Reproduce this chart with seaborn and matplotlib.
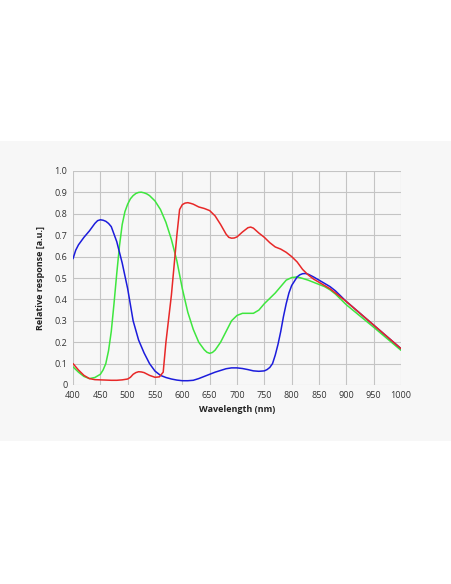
import numpy as np
import pandas as pd
import seaborn as sns
import matplotlib.pyplot as plt
from matplotlib.patches import Rectangle

# spectral response curves
blue_nm = [400, 405, 410, 420, 430, 440, 445, 450, 455, 460, 465, 470, 480, 490, 500, 510,
           520, 530, 540, 550, 560, 570, 580, 590, 600, 610, 620, 630, 640, 650, 660, 670,
           680, 690, 700, 710, 720, 730, 740, 750, 755, 760, 765, 770, 775, 780, 785, 790,
           795, 800, 810, 815, 820, 825, 830, 840, 850, 860, 870, 880, 890, 900, 950, 1000]
blue_val = [0.59, 0.63, 0.655, 0.69, 0.72, 0.755, 0.768, 0.772, 0.77, 0.765, 0.755, 0.74,
            0.67, 0.57, 0.45, 0.30, 0.21, 0.15, 0.10, 0.065, 0.045, 0.035, 0.028, 0.023,
            0.02, 0.02, 0.022, 0.03, 0.04, 0.05, 0.06, 0.068, 0.076, 0.08, 0.08, 0.077,
            0.072, 0.066, 0.064, 0.066, 0.072, 0.082, 0.10, 0.14, 0.19, 0.25, 0.32, 0.38,
            0.43, 0.465, 0.505, 0.515, 0.52, 0.521, 0.518, 0.505, 0.49, 0.475, 0.46, 0.44,
            0.415, 0.39, 0.28, 0.17]

green_nm = [400, 410, 420, 430, 440, 450, 455, 460, 465, 470, 475, 480, 485, 490, 495, 500,
            505, 510, 515, 520, 525, 530, 535, 540, 550, 560, 570, 580, 590, 600, 610, 620,
            630, 640, 645, 650, 655, 660, 670, 680, 690, 700, 710, 720, 730, 740, 750, 760,
            770, 780, 790, 800, 810, 820, 830, 840, 850, 860, 870, 880, 890, 900, 950, 1000]
green_val = [0.085, 0.06, 0.04, 0.03, 0.035, 0.05, 0.07, 0.10, 0.16, 0.25, 0.38, 0.52, 0.65,
             0.75, 0.81, 0.845, 0.87, 0.885, 0.895, 0.90, 0.901, 0.898, 0.893, 0.885, 0.86,
             0.82, 0.76, 0.68, 0.58, 0.45, 0.34, 0.26, 0.20, 0.165, 0.153, 0.148, 0.152,
             0.163, 0.20, 0.25, 0.30, 0.325, 0.335, 0.335, 0.335, 0.35, 0.38, 0.405, 0.43,
             0.46, 0.49, 0.502, 0.505, 0.498, 0.49, 0.48, 0.47, 0.46, 0.445, 0.425, 0.40,
             0.375, 0.27, 0.162]

red_nm = [400, 410, 420, 430, 440, 450, 460, 470, 480, 490, 500, 505, 510, 515, 520, 525,
          530, 540, 550, 558, 565, 570, 580, 590, 595, 600, 605, 610, 615, 620, 630, 640,
          650, 660, 670, 680, 685, 690, 695, 700, 710, 720, 725, 730, 740, 750, 760, 770,
          780, 790, 800, 810, 820, 830, 840, 850, 860, 870, 880, 890, 900, 950, 1000]
red_val = [0.10, 0.07, 0.045, 0.03, 0.025, 0.024, 0.023, 0.022, 0.022, 0.024, 0.028, 0.036,
           0.05, 0.058, 0.062, 0.061, 0.058, 0.045, 0.036, 0.038, 0.06, 0.20, 0.42, 0.70,
           0.82, 0.843, 0.85, 0.852, 0.849, 0.845, 0.832, 0.825, 0.815, 0.79, 0.75, 0.705,
           0.69, 0.686, 0.687, 0.692, 0.715, 0.735, 0.738, 0.733, 0.71, 0.69, 0.665, 0.645,
           0.635, 0.62, 0.60, 0.575, 0.54, 0.515, 0.495, 0.48, 0.465, 0.45, 0.43, 0.41,
           0.39, 0.28, 0.17]

x_ticks = list(range(400, 1001, 50))
y_ticks = [0, 0.1, 0.2, 0.3, 0.4, 0.5, 0.6, 0.7, 0.8, 0.9, 1.0]
y_tick_labels = ['0', '0.1', '0.2', '0.3', '0.4', '0.5', '0.6', '0.7', '0.8', '0.9', '1.0']

df = pd.concat([
    pd.DataFrame({'nm': green_nm, 'val': green_val, 'ch': 'G'}),
    pd.DataFrame({'nm': blue_nm, 'val': blue_val, 'ch': 'B'}),
    pd.DataFrame({'nm': red_nm, 'val': red_val, 'ch': 'R'}),
])

sns.set_style('white')
plt.rcParams['font.family'] = ['Open Sans', 'DejaVu Sans']

fig = plt.figure(figsize=(4.52, 5.84), dpi=100, facecolor='white')
# light gray band behind the chart
band = Rectangle((0, 1 - 441 / 584), 1, 300 / 584, transform=fig.transFigure,
                 facecolor='#f7f7f7', edgecolor='none', zorder=-10)
fig.patches.append(band)

ax = fig.add_axes([73 / 452, 1 - 385 / 584, 328 / 452, 214 / 584])
ax.set_facecolor('#f7f7f7')

palette = {'G': '#3ee63e', 'B': '#1c1cdc', 'R': '#e82828'}
sns.lineplot(data=df, x='nm', y='val', hue='ch', palette=palette, ax=ax,
             linewidth=1.1, legend=False, sort=False, estimator=None)

ax.set_xlim(400, 1000)
ax.set_ylim(0, 1.0)
ax.set_xticks(x_ticks)
ax.set_yticks(y_ticks)
ax.set_yticklabels(y_tick_labels)
ax.tick_params(labelsize=6.5, colors='#333333', length=0, pad=4)
ax.grid(True, color='#c4c4c4', linewidth=0.8)
for s in ax.spines.values():
    s.set_visible(False)
ax.set_axisbelow(True)

ax.set_xlabel('Wavelength (nm)', fontsize=6.5, fontweight='bold', color='#222222', labelpad=4)
ax.set_ylabel('Relative response [a.u.]', fontsize=6.5, fontweight='bold', color='#222222', labelpad=7)

fig.savefig('out.png', dpi=100, facecolor='white')
